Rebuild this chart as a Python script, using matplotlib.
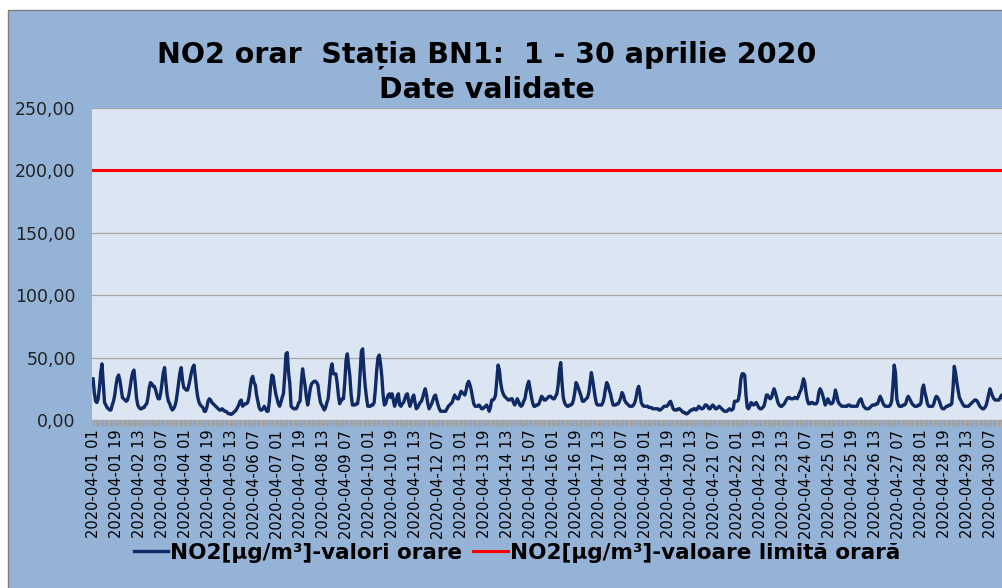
import matplotlib
matplotlib.use('Agg')
import matplotlib.pyplot as plt
from matplotlib.patches import Rectangle
from matplotlib.ticker import FuncFormatter
import numpy as np

# hourly NO2 values (µg/m³), one row per day, hours 01..24
no2_day01 = [33, 22, 15, 14, 17, 26, 38, 45, 30, 14, 12, 10, 9, 8, 8, 12, 15, 20, 28, 34, 36, 32, 25, 18]
no2_day02 = [17, 16, 15, 16, 20, 26, 33, 38, 40, 30, 18, 12, 10, 9, 9, 10, 10, 12, 13, 18, 26, 30, 29, 27]
no2_day03 = [27, 24, 20, 17, 17, 22, 30, 38, 42, 30, 20, 15, 13, 10, 8, 9, 11, 15, 22, 30, 38, 42, 32, 26]
no2_day04 = [25, 24, 24, 28, 33, 38, 42, 44, 35, 25, 18, 14, 12, 11, 10, 7, 7, 10, 15, 17, 16, 14, 13, 12]
no2_day05 = [11, 10, 9, 8, 8, 9, 8, 7, 7, 6, 5, 5, 4.5, 5, 6, 7, 8, 10, 12, 15, 16, 11, 12, 13]
no2_day06 = [13, 14, 18, 26, 33, 35, 30, 28, 20, 15, 10, 8, 8, 9, 11, 9, 7, 7, 15, 28, 36, 35, 27, 21]
no2_day07 = [17, 13, 11, 14, 18, 21, 35, 53, 54, 38, 29, 11, 10, 9, 9, 9, 11, 14, 15, 30, 41, 34, 27, 18]
no2_day08 = [12, 18, 25, 29, 30, 31, 31, 30, 28, 20, 14, 12, 10, 8, 10, 14, 17, 28, 40, 45, 37, 37, 37, 30]
no2_day09 = [20, 13, 15, 17, 17, 30, 48, 53, 44, 35, 20, 12, 12, 12, 13, 13, 20, 38, 55, 57, 40, 27, 18, 11]
no2_day10 = [11, 11, 12, 12, 14, 25, 40, 50, 52, 45, 35, 20, 12, 13, 17, 20, 21, 18, 21, 16, 11, 14, 19, 21]
no2_day11 = [12, 11, 13, 14, 17, 20, 21, 15, 11, 14, 18, 20, 14, 9, 10, 12, 14, 15, 18, 22, 25, 20, 13, 9]
no2_day12 = [11, 13, 16, 19, 20, 16, 12, 9, 7, 7, 7, 7, 7, 9, 11, 12, 13, 14, 17, 20, 18, 17, 17, 20]
no2_day13 = [23, 22, 21, 20, 24, 29, 31, 28, 24, 18, 13, 11, 11, 11, 12, 11, 9, 9, 10, 11, 12, 10, 7, 10]
no2_day14 = [16, 16, 17, 20, 32, 44, 40, 30, 24, 21, 19, 18, 17, 16, 16, 17, 17, 14, 12, 14, 17, 15, 12, 11]
no2_day15 = [12, 15, 17, 23, 28, 31, 25, 19, 14, 11, 11, 12, 12, 13, 16, 19, 18, 16, 16, 17, 18, 19, 19, 18]
no2_day16 = [17, 17, 19, 21, 28, 40, 46, 30, 18, 14, 12, 11, 11, 12, 12, 13, 16, 22, 30, 28, 25, 22, 19, 15]
no2_day17 = [15, 16, 17, 18, 22, 30, 38, 32, 25, 18, 13, 12, 12, 12, 12, 14, 18, 25, 30, 28, 24, 21, 16, 12]
no2_day18 = [12, 12, 13, 13, 15, 18, 22, 20, 16, 14, 13, 12, 11, 11, 11, 12, 14, 18, 24, 27, 22, 14, 12, 11]
no2_day19 = [11, 11, 11, 10, 10, 10, 9, 9, 9, 9, 9, 8, 8, 9, 10, 11, 11, 11, 12, 14, 15, 12, 9, 8]
no2_day20 = [8, 8, 9, 9, 8, 7, 6, 6, 5, 5, 6, 7, 8, 8, 9, 9, 8, 9, 11, 10, 9, 9, 10, 12]
no2_day21 = [12, 11, 9, 9, 11, 12, 11, 9, 9, 10, 11, 10, 9, 8, 7, 7, 7, 8, 9, 8, 8, 9, 15, 15]
no2_day22 = [15, 16, 22, 33, 37, 37, 36, 20, 10, 9, 11, 14, 13, 12, 13, 14, 12, 10, 9, 9, 10, 11, 15, 20]
no2_day23 = [20, 18, 17, 18, 22, 25, 22, 18, 14, 12, 11, 11, 12, 13, 15, 17, 18, 18, 17, 17, 17, 18, 18, 17]
no2_day24 = [19, 22, 24, 28, 33, 30, 22, 16, 13, 13, 14, 14, 13, 13, 13, 15, 22, 25, 23, 20, 16, 12, 14, 17]
no2_day25 = [15, 13, 13, 14, 18, 24, 20, 15, 13, 12, 11, 11, 11, 11, 11, 12, 12, 11, 11, 11, 11, 11, 11, 14]
no2_day26 = [16, 17, 14, 11, 10, 9, 9, 9, 10, 11, 12, 12, 12, 13, 13, 16, 19, 17, 14, 12, 11, 11, 11, 11]
no2_day27 = [12, 15, 28, 44, 38, 17, 13, 11, 11, 11, 12, 12, 13, 17, 19, 17, 15, 13, 12, 11, 11, 11, 12, 12]
no2_day28 = [14, 25, 28, 22, 18, 13, 11, 11, 11, 11, 13, 17, 19, 18, 16, 13, 10, 9, 9, 10, 11, 11, 12, 12]
no2_day29 = [13, 25, 43, 38, 30, 24, 18, 16, 14, 12, 11, 11, 11, 11, 12, 13, 14, 15, 16, 16, 15, 13, 11, 10]
no2_day30 = [9, 9, 10, 12, 16, 21, 25, 22, 19, 17, 16, 16, 16, 16, 18, 20, 18, 16, 14, 13, 13, 14, 15, 15]

no2_days = [no2_day01, no2_day02, no2_day03, no2_day04, no2_day05, no2_day06,
            no2_day07, no2_day08, no2_day09, no2_day10, no2_day11, no2_day12,
            no2_day13, no2_day14, no2_day15, no2_day16, no2_day17, no2_day18,
            no2_day19, no2_day20, no2_day21, no2_day22, no2_day23, no2_day24,
            no2_day25, no2_day26, no2_day27, no2_day28, no2_day29, no2_day30]

limit_value = 200  # hourly limit value

# category labels "2020-04-DD HH"
categories = [f"2020-04-{d + 1:02d} {h + 1:02d}" for d in range(30) for h in range(24)]
no2_values = [v for day in no2_days for v in day]

NAVY = '#102A66'
RED = '#FF0000'
FRAME_BG = '#95B3D7'
PLOT_BG = '#DCE6F2'

plt.rcParams['font.family'] = ['DejaVu Sans']

fig = plt.figure(figsize=(10.03, 5.88), dpi=100)
fig.patch.set_facecolor('white')

# chart area background with thin border
frame = Rectangle((8 / 1003, -0.01), 1.0, (578 / 588) + 0.01,
                  transform=fig.transFigure, facecolor=FRAME_BG,
                  edgecolor='#7F7F7F', linewidth=1.0, zorder=-5)
fig.patches.append(frame)

ax = fig.add_axes([92.4 / 1003, 168 / 588, 920 / 1003, 312 / 588])
ax.set_zorder(2)
ax.set_facecolor(PLOT_BG)

x = np.arange(len(no2_values))
ax.plot(x, no2_values, color=NAVY, linewidth=2.4, solid_joinstyle='round',
        label='NO2[µg/m³]-valori orare', zorder=3)
ax.plot(x, [limit_value] * len(x), color=RED, linewidth=2.2,
        label='NO2[µg/m³]-valoare limită orară', zorder=3)

ax.set_xlim(-0.5, len(x) - 0.5)
ax.set_ylim(0, 250)
ax.set_yticks(np.arange(0, 251, 50))
ax.yaxis.set_major_formatter(FuncFormatter(lambda v, p: f"{v:.2f}".replace('.', ',')))
ax.grid(axis='y', color='#A6A6A6', linewidth=0.9)
ax.set_axisbelow(True)

tick_pos = x[::18]
ax.set_xticks(tick_pos)
ax.set_xticklabels([categories[i] for i in tick_pos], rotation=90, fontsize=10.5)
ax.set_xticks(x, minor=True)
ax.tick_params(axis='x', which='both', length=4, color='#A0A0A0', width=0.6, pad=3)
ax.tick_params(axis='y', length=0, labelsize=12.5, pad=12, labelcolor='#222222')

for side in ['top', 'right', 'left']:
    ax.spines[side].set_visible(False)
ax.spines['bottom'].set_color('#A6A6A6')

fig.text(487 / 1003, 1 - 55 / 588, 'NO2 orar  Stația BN1:  1 - 30 aprilie 2020',
         ha='center', va='center', fontsize=20.5, fontweight='bold')
fig.text(487 / 1003, 1 - 90 / 588, 'Date validate',
         ha='center', va='center', fontsize=20.5, fontweight='bold')

fig.legend(loc='center', bbox_to_anchor=(517 / 1003, 1 - 553 / 588), ncol=2,
           frameon=False, handlelength=1.6, handletextpad=0.1,
           columnspacing=0.5, prop={'weight': 'bold', 'size': 15.5})

fig.savefig('out.png', dpi=100, facecolor=fig.get_facecolor())
